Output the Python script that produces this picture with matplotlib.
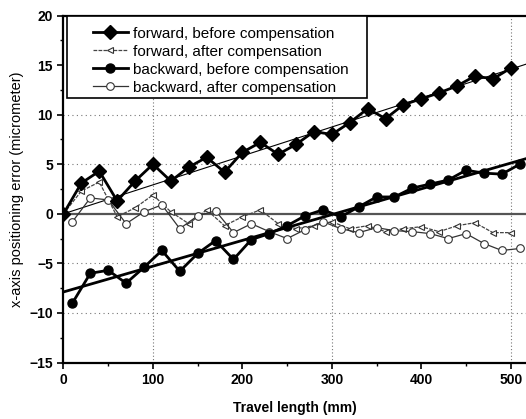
import numpy as np
import matplotlib
matplotlib.use("Agg")
import matplotlib.pyplot as plt
from matplotlib.ticker import MultipleLocator
from matplotlib.patches import Rectangle

plt.rcParams["font.family"] = ["Liberation Sans", "DejaVu Sans"]

# forward direction, measured every 20 mm
x_fwd = [0, 20, 40, 60, 80, 100, 120, 140, 160, 180, 200, 220, 240,
         260, 280, 300, 320, 340, 360, 380, 400, 420, 440, 460, 480, 500]
fwd_before = [0.0, 3.1, 4.3, 1.3, 3.3, 5.0, 3.3, 4.7, 5.7, 4.2, 6.2, 7.2, 6.0,
              7.0, 8.3, 8.0, 9.2, 10.6, 9.6, 11.0, 11.6, 12.2, 12.9, 13.9, 13.6, 14.7]
fwd_after = [0.0, 2.3, 3.2, -0.3, 0.6, 1.9, 0.2, -1.0, 0.4, -1.2, -0.3, 0.4, -1.0,
             -1.5, -1.2, -0.8, -1.5, -1.2, -1.8, -1.5, -1.3, -1.8, -1.2, -0.9, -1.9, -1.9]

# backward direction, measured every 20 mm starting at 10 mm
x_bwd = [10, 30, 50, 70, 90, 110, 130, 150, 170, 190, 210, 230, 250,
         270, 290, 310, 330, 350, 370, 390, 410, 430, 450, 470, 490, 510]
bwd_before = [-9.0, -6.0, -5.7, -7.0, -5.4, -3.7, -5.8, -4.0, -2.7, -4.6, -2.6, -2.0, -1.2,
              -0.2, 0.4, -0.3, 0.7, 1.7, 1.7, 2.6, 3.0, 3.4, 4.4, 4.1, 4.0, 5.0]
bwd_after = [-0.8, 1.6, 1.4, -1.0, 0.2, 0.9, -1.5, -0.2, 0.3, -1.9, -1.0, -1.8, -2.5,
             -1.6, -0.8, -1.5, -1.9, -1.4, -1.7, -1.8, -2.0, -2.5, -2.0, -3.0, -3.7, -3.5]

fig = plt.figure(figsize=(5.26, 4.19), dpi=100)
ax = fig.add_axes([0.1207, 0.1348, 0.8793, 0.8282])

XMAX = 517
ax.axhline(0, color="#555555", lw=1.6, zorder=1)
for gx in [100, 300, 500]:
    ax.axvline(gx, color="#777777", lw=0.8, ls=(0, (1, 2)), zorder=0)
for gy in [-10, -5, 5, 10]:
    ax.axhline(gy, color="#777777", lw=0.8, ls=(0, (1, 3)), zorder=0)

# linear fits: forward through origin, backward ordinary least squares
xs = np.array([0, XMAX])
xf, yf = np.array(x_fwd), np.array(fwd_before)
k = np.dot(xf, yf) / np.dot(xf, xf)
ax.plot(xs, k * xs, color="black", lw=0.8, zorder=2)
k, b = np.polyfit(x_bwd, bwd_before, 1)
ax.plot(xs, k * xs + b, color="black", lw=2.0, zorder=2)

ax.plot(x_fwd, fwd_before, color="black", lw=2.0, marker="D", ms=7,
        label="forward, before compensation", zorder=4)
ax.plot(x_fwd, fwd_after, color="#444444", lw=0.9, ls=(0, (3, 1)), marker="<", ms=5,
        mfc="white", mec="#333333", mew=0.8, label="forward, after compensation", zorder=3)
ax.plot(x_bwd, bwd_before, color="black", lw=2.0, marker="o", ms=6.5,
        label="backward, before compensation", zorder=4)
ax.plot(x_bwd, bwd_after, color="#333333", lw=0.9, marker="o", ms=5.5,
        mfc="white", mec="#333333", mew=0.8, label="backward, after compensation", zorder=3)

ax.set_xlim(0, XMAX)
ax.set_ylim(-15, 20)
ax.xaxis.set_major_locator(MultipleLocator(100))
ax.xaxis.set_minor_locator(MultipleLocator(50))
ax.yaxis.set_major_locator(MultipleLocator(5))
ax.yaxis.set_minor_locator(MultipleLocator(2.5))
ax.tick_params(which="major", direction="out", length=4, width=1.2, labelsize=10)
ax.tick_params(which="minor", direction="out", length=2.5, width=1.0)
for lab in ax.get_xticklabels() + ax.get_yticklabels():
    lab.set_fontweight("bold")

for s in ["left", "bottom", "top"]:
    ax.spines[s].set_linewidth(1.6)
ax.spines["right"].set_visible(False)

ax.set_xlabel("Travel length (mm)", fontsize=10, fontweight="bold", labelpad=10)
ax.set_ylabel("x-axis positioning error (micrometer)", fontsize=10.5, labelpad=4)

# legend frame drawn separately so the padding matches the original
ax.add_patch(Rectangle((0.0076, 0.762), 0.6486, 0.238, transform=ax.transAxes,
                       facecolor="white", edgecolor="black", lw=1.2, zorder=5))
leg = ax.legend(loc="upper left", bbox_to_anchor=(0.063, 0.968), borderaxespad=0,
                fontsize=11, frameon=False, handlelength=2.3, borderpad=0,
                labelspacing=0.26, handletextpad=0.35)
leg.set_zorder(6)

fig.savefig("out.png", dpi=100)
